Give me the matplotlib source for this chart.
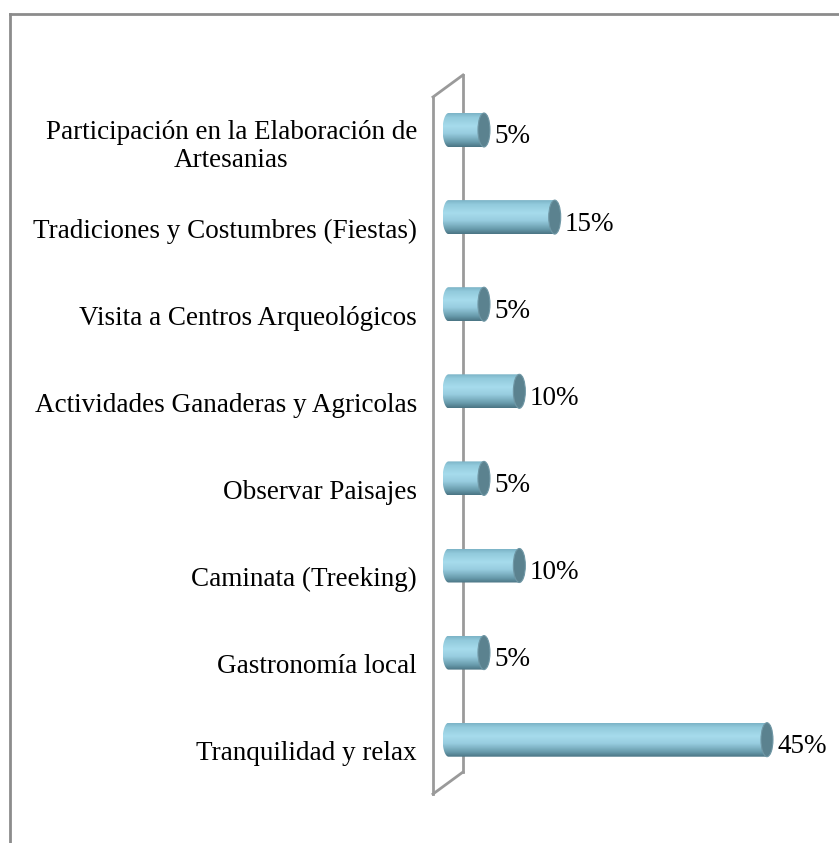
import matplotlib
matplotlib.use("Agg")
import matplotlib.pyplot as plt
import numpy as np
from matplotlib.patches import Polygon, Ellipse
from matplotlib.lines import Line2D
from matplotlib.colors import LinearSegmentedColormap

# data, top to bottom
categories = [
    "Participación en la Elaboración de\nArtesanias",
    "Tradiciones y Costumbres (Fiestas)",
    "Visita a Centros Arqueológicos",
    "Actividades Ganaderas y Agricolas",
    "Observar Paisajes",
    "Caminata (Treeking)",
    "Gastronomía local",
    "Tranquilidad y relax",
]
values = [5, 15, 5, 10, 5, 10, 5, 45]
value_labels = ["5%", "15%", "5%", "10%", "5%", "10%", "5%", "45%"]

W, H = 839, 843
fig = plt.figure(figsize=(W / 100, H / 100), dpi=100)
ax = fig.add_axes([0, 0, 1, 1])
ax.axis("off")

# pixel mapping: px = X0 + KX*v ; py = Y0 + KY*i
X0, KX = 448.6, 7.075
Y0, KY = 130.0, 87.1

FONT = "Liberation Serif"
FS = 19.5
a = 6.0 / KX      # cap half width (data units)
b = 17.0 / KY     # bar half height

cmap = LinearSegmentedColormap.from_list(
    "cyl", [(0.0, "#7cb4c7"), (0.12, "#92cadc"), (0.38, "#a6dbec"),
            (0.6, "#98cde0"), (0.85, "#6a9dae"), (1.0, "#4b7584")])
grad = np.linspace(0, 1, 64).reshape(-1, 1)

# back wall
wall_col = "#9a9a9a"
wx_back, wx_front = (433 - X0) / KX, (463 - X0) / KX
wy = lambda py: (py - Y0) / KY
ax.plot([wx_back, wx_back], [wy(97), wy(794)], color=wall_col, lw=2, zorder=1)
ax.plot([wx_front, wx_front], [wy(75), wy(772)], color=wall_col, lw=2, zorder=1)
ax.plot([wx_back, wx_front], [wy(97), wy(75)], color=wall_col, lw=2, zorder=1)
ax.plot([wx_back, wx_front], [wy(794), wy(772)], color=wall_col, lw=2, zorder=1)

t = np.linspace(np.pi / 2, 3 * np.pi / 2, 40)
for i, (v, lab, vl) in enumerate(zip(values, categories, value_labels)):
    pts = [(v, i - b), (v, i + b)]
    pts += [(a * np.cos(tt), i + b * np.sin(tt)) for tt in t]
    body = Polygon(pts, closed=True, transform=ax.transData,
                   facecolor="none", edgecolor="none")
    im = ax.imshow(grad, cmap=cmap, aspect="auto", interpolation="bilinear",
                   extent=(-a, v, i + b, i - b), zorder=3)
    im.set_clip_path(body)
    cap = Ellipse((v, i), 2 * a, 2 * b, facecolor="#5b828f",
                  edgecolor="#6f97a5", lw=0.8, zorder=4)
    ax.add_patch(cap)
    ax.text(v + a + 0.6, i + 0.08, vl, ha="left", va="center",
            fontsize=FS, family=FONT, color="black")
    dy = 0.19 if "\n" in lab else 0.16
    ax.text((417 - X0) / KX, i + dy, lab, ha="right", va="center",
            multialignment="center", fontsize=FS, family=FONT,
            color="black", linespacing=1.15)

ax.set_xlim(-X0 / KX, (W - X0) / KX)
ax.set_ylim((H - Y0) / KY, -Y0 / KY)

# outer border (left and top)
fig.add_artist(Line2D([10 / W, 10 / W], [0, 1 - 14 / H], color="#8c8c8c", lw=2))
fig.add_artist(Line2D([10 / W, 1], [1 - 14 / H, 1 - 14 / H], color="#8c8c8c", lw=2))

fig.savefig("out.png", dpi=100)
